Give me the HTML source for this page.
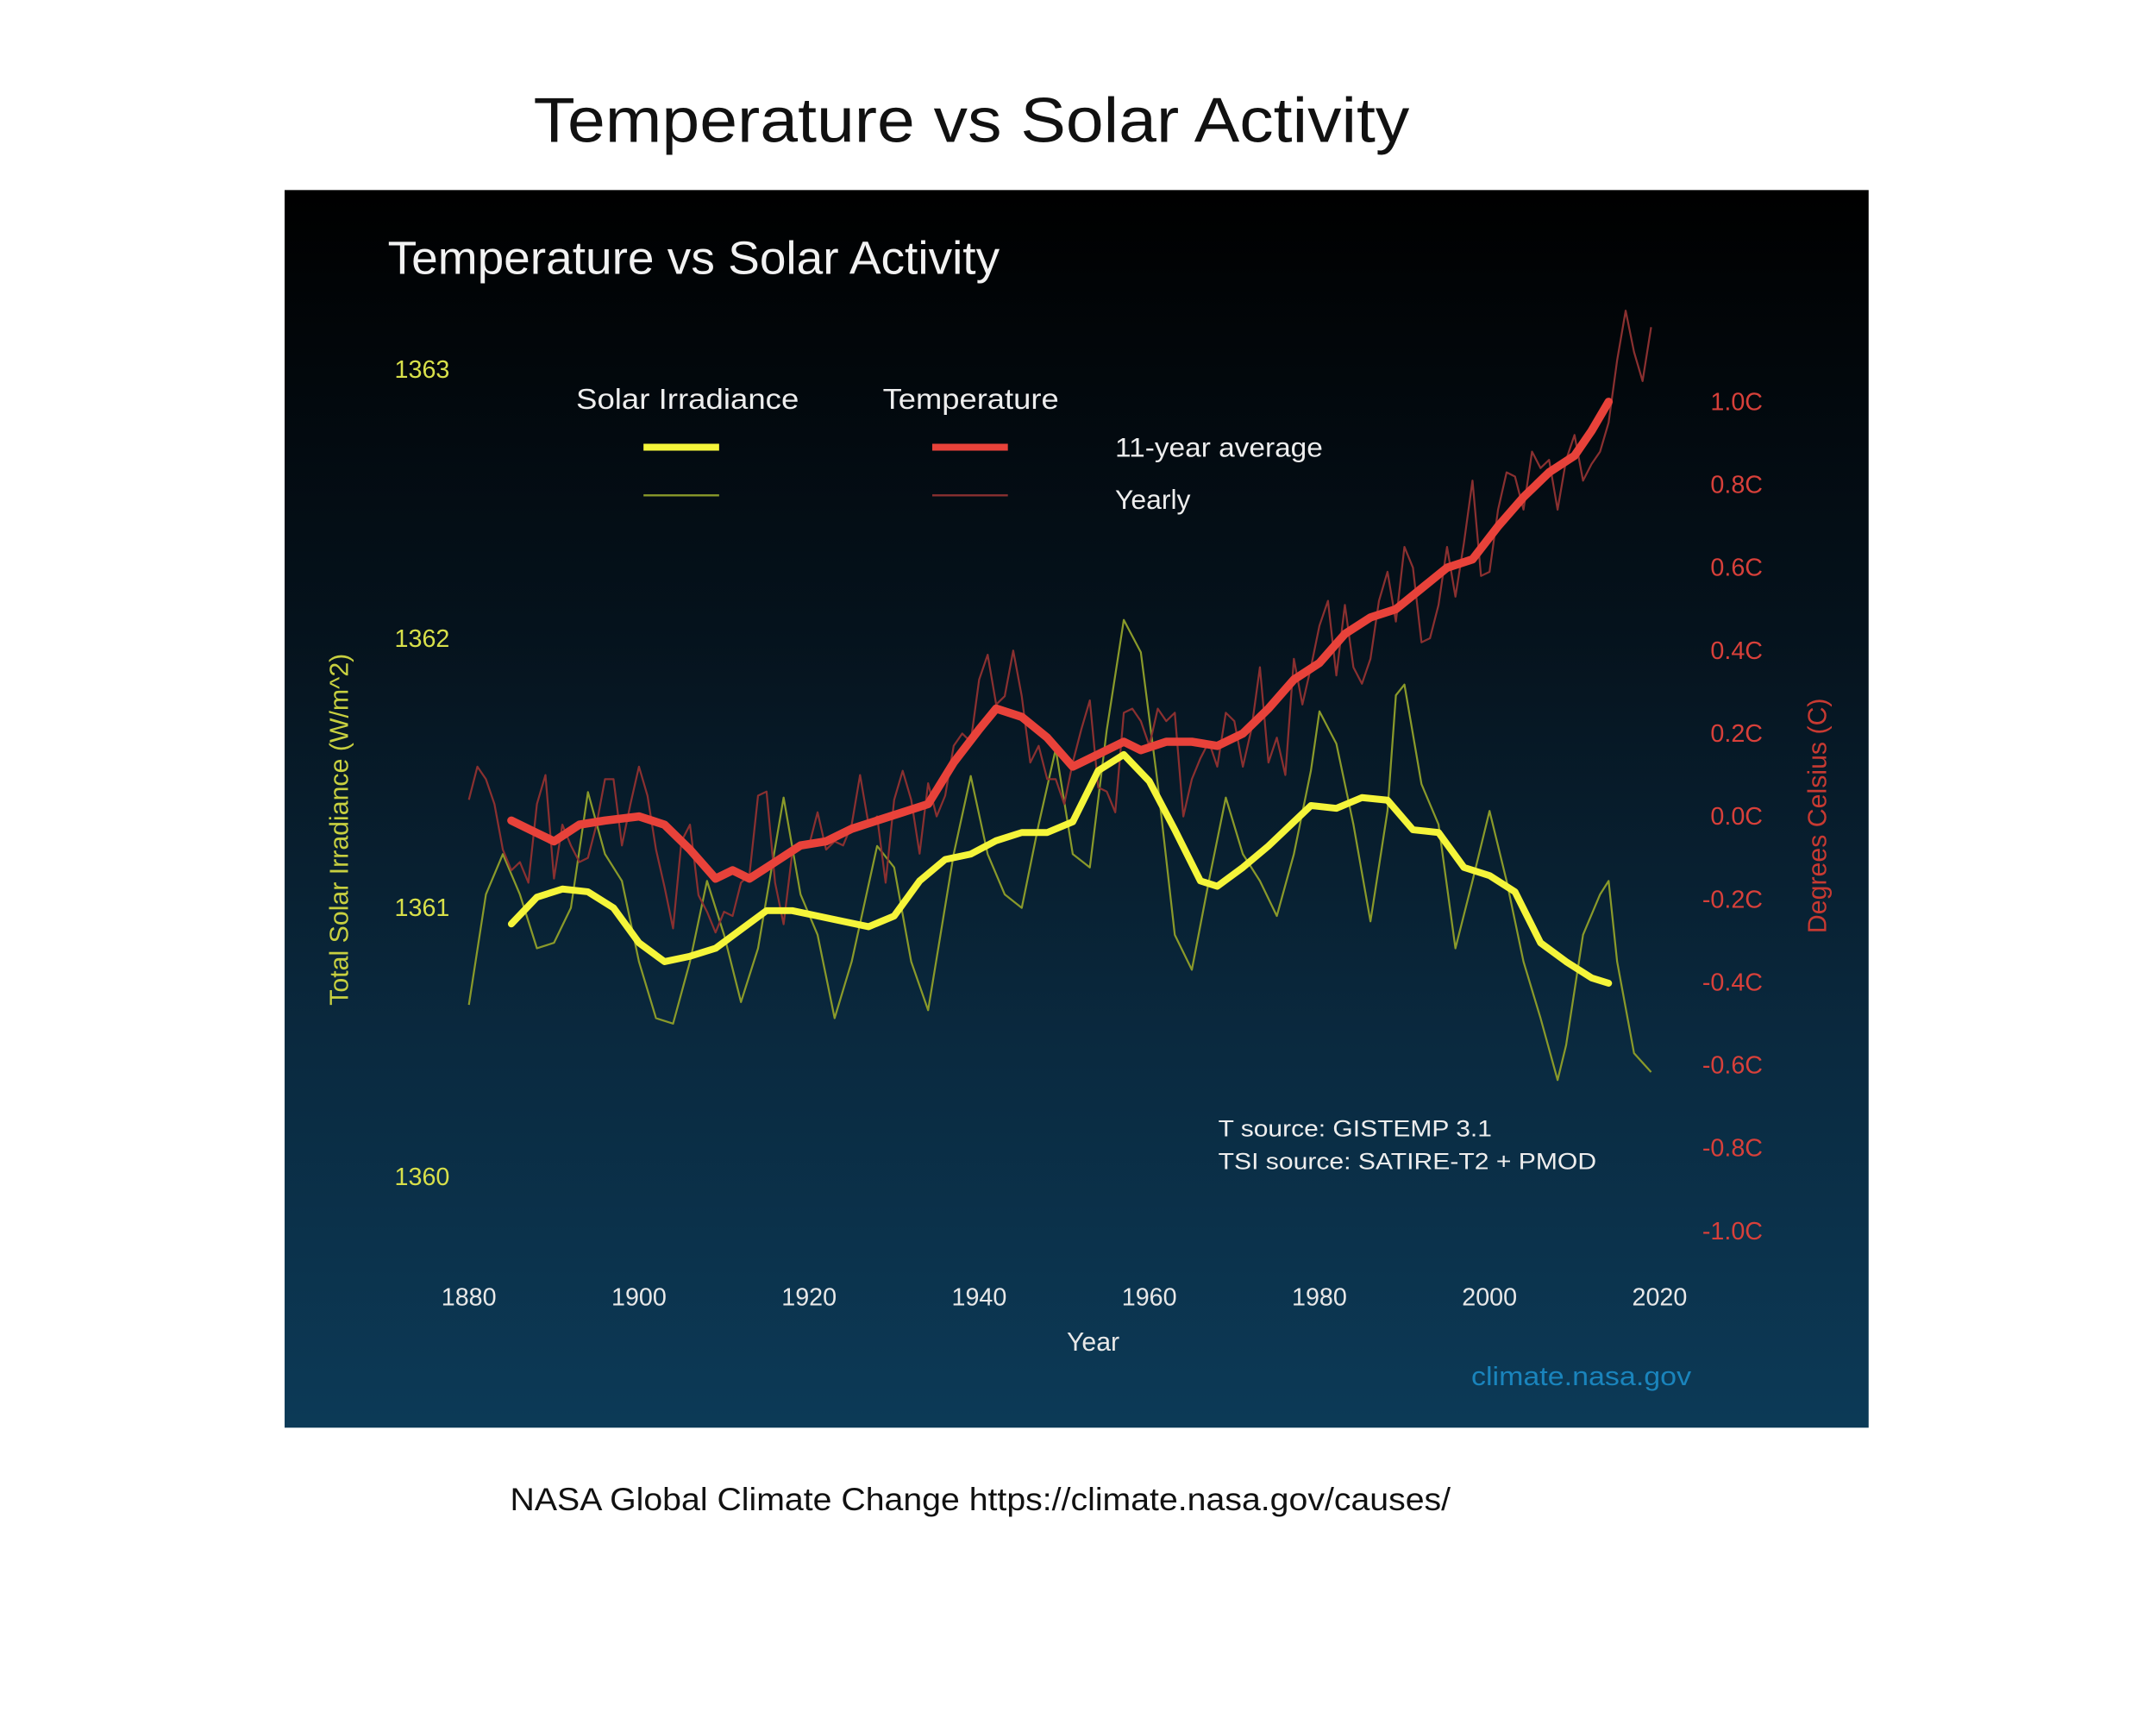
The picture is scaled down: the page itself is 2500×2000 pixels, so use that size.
<!DOCTYPE html>
<html><head><meta charset="utf-8"><style>
html,body{margin:0;padding:0;background:#fff;}
svg{display:block;font-family:"Liberation Sans",sans-serif;}
</style></head><body>
<svg id="chart" width="2500" height="2000" viewBox="0 0 1568 1254" xmlns="http://www.w3.org/2000/svg">
<defs>
<linearGradient id="bg" x1="0" y1="0" x2="0" y2="1">
<stop offset="0" stop-color="#000000"/>
<stop offset="0.35" stop-color="#05121c"/>
<stop offset="0.7" stop-color="#0a2a40"/>
<stop offset="1" stop-color="#0c3a57"/>
</linearGradient>
</defs>
<rect x="0" y="0" width="1568" height="1254" fill="#ffffff"/>
<text x="388" y="103" textLength="637" lengthAdjust="spacingAndGlyphs" font-size="46" fill="#111">Temperature vs Solar Activity</text>
<rect x="207" y="138" width="1152" height="900" fill="url(#bg)"/>
<text x="282" y="199" textLength="445" lengthAdjust="spacingAndGlyphs" font-size="34" fill="#f2f2f2">Temperature vs Solar Activity</text>
<g id="xticks"></g>
<g id="lticks"></g>
<g id="rticks"></g>
<text x="795" y="982" text-anchor="middle" font-size="19" fill="#e8e8e8">Year</text>
<text transform="translate(253,603) rotate(-90)" text-anchor="middle" font-size="19" fill="#c8d040">Total Solar Irradiance (W/m^2)</text>
<text transform="translate(1328,593) rotate(-90)" text-anchor="middle" font-size="19" fill="#c83a32">Degrees Celsius (C)</text>
<g id="series"></g>
<g>
<text x="419" y="297" textLength="162" lengthAdjust="spacingAndGlyphs" font-size="21" fill="#eee">Solar Irradiance</text>
<text x="642" y="297" textLength="128" lengthAdjust="spacingAndGlyphs" font-size="21" fill="#eee">Temperature</text>
<line x1="468" y1="325" x2="523" y2="325" stroke="#f5f53a" stroke-width="5"/>
<line x1="678" y1="325" x2="733" y2="325" stroke="#e8423a" stroke-width="5"/>
<line x1="468" y1="360" x2="523" y2="360" stroke="#8a9a2a" stroke-width="1.5"/>
<line x1="678" y1="360" x2="733" y2="360" stroke="#8a3030" stroke-width="1.5"/>
<text x="811" y="332" textLength="151" lengthAdjust="spacingAndGlyphs" font-size="20" fill="#eee">11-year average</text>
<text x="811" y="370" font-size="20" fill="#eee">Yearly</text>
</g>
<text x="886" y="826" textLength="199" lengthAdjust="spacingAndGlyphs" font-size="17" fill="#eee">T source: GISTEMP 3.1</text>
<text x="886" y="850" textLength="275" lengthAdjust="spacingAndGlyphs" font-size="17" fill="#eee">TSI source: SATIRE-T2 + PMOD</text>
<text x="1070" y="1007" textLength="160" lengthAdjust="spacingAndGlyphs" font-size="19" fill="#1a84bc">climate.nasa.gov</text>
<text x="371" y="1098" textLength="684" lengthAdjust="spacingAndGlyphs" font-size="23" fill="#111">NASA Global Climate Change https://climate.nasa.gov/causes/</text>
</svg>
<script>
const xTicks=[1880,1900,1920,1940,1960,1980,2000,2020];
const leftTicks=[1360,1361,1362,1363];
const rightTicks=[-1.0,-0.8,-0.6,-0.4,-0.2,0.0,0.2,0.4,0.6,0.8,1.0];
const tempYearly=[0.04,0.12,0.09,0.03,-0.08,-0.13,-0.11,-0.16,0.03,0.10,-0.15,-0.02,-0.07,-0.11,-0.10,-0.02,0.09,0.09,-0.07,0.03,0.12,0.05,-0.08,-0.17,-0.27,-0.06,-0.02,-0.19,-0.23,-0.28,-0.23,-0.24,-0.16,-0.14,0.05,0.06,-0.16,-0.26,-0.09,-0.07,-0.07,0.01,-0.08,-0.06,-0.07,-0.02,0.10,-0.02,0.00,-0.16,0.04,0.11,0.04,-0.09,0.08,0.00,0.05,0.17,0.20,0.18,0.33,0.39,0.27,0.29,0.40,0.29,0.13,0.17,0.09,0.09,0.03,0.13,0.21,0.28,0.07,0.06,0.01,0.25,0.26,0.23,0.17,0.26,0.23,0.25,0.00,0.09,0.14,0.18,0.12,0.25,0.23,0.12,0.21,0.36,0.13,0.19,0.10,0.38,0.27,0.36,0.46,0.52,0.34,0.51,0.36,0.32,0.38,0.52,0.59,0.47,0.65,0.60,0.42,0.43,0.51,0.65,0.53,0.66,0.81,0.58,0.59,0.74,0.83,0.82,0.74,0.88,0.84,0.86,0.74,0.86,0.92,0.81,0.85,0.88,0.95,1.10,1.22,1.12,1.05,1.18];
const tempAvgYears=[1885,1888,1890,1893,1896,1900,1903,1906,1909,1911,1913,1916,1919,1922,1925,1928,1931,1934,1937,1940,1942,1945,1948,1951,1954,1957,1959,1962,1965,1968,1971,1974,1977,1980,1983,1986,1989,1992,1995,1998,2001,2004,2007,2010,2012,2014];
const tempAvg=[-0.01,-0.04,-0.06,-0.02,-0.01,0.00,-0.02,-0.08,-0.15,-0.13,-0.15,-0.11,-0.07,-0.06,-0.03,-0.01,0.01,0.03,0.13,0.21,0.26,0.24,0.19,0.12,0.15,0.18,0.16,0.18,0.18,0.17,0.20,0.26,0.33,0.37,0.44,0.48,0.50,0.55,0.60,0.62,0.70,0.77,0.83,0.87,0.93,1.00];
const solarYears=[1880,1882,1884,1886,1888,1890,1892,1894,1896,1898,1900,1902,1904,1906,1908,1910,1912,1914,1917,1919,1921,1923,1925,1928,1930,1932,1934,1937,1939,1941,1943,1945,1947,1949,1951,1953,1955,1957,1959,1961,1963,1965,1967,1969,1971,1973,1975,1977,1979,1980,1982,1984,1986,1988,1989,1990,1992,1994,1996,1998,2000,2002,2004,2006,2008,2009,2011,2013,2014,2015,2017,2019];
const solarYearly=[1360.64,1361.05,1361.20,1361.05,1360.85,1360.87,1361.00,1361.43,1361.20,1361.10,1360.80,1360.59,1360.57,1360.80,1361.10,1360.90,1360.65,1360.85,1361.41,1361.05,1360.90,1360.59,1360.80,1361.23,1361.15,1360.80,1360.62,1361.20,1361.49,1361.20,1361.05,1361.00,1361.31,1361.59,1361.20,1361.15,1361.66,1362.07,1361.95,1361.46,1360.90,1360.77,1361.10,1361.41,1361.20,1361.10,1360.97,1361.20,1361.51,1361.73,1361.61,1361.31,1360.95,1361.36,1361.79,1361.83,1361.46,1361.31,1360.85,1361.10,1361.36,1361.10,1360.80,1360.59,1360.36,1360.49,1360.90,1361.05,1361.10,1360.80,1360.46,1360.39];
const solarAvgYears=[1885,1888,1891,1894,1897,1900,1903,1906,1909,1912,1915,1918,1921,1924,1927,1930,1933,1936,1939,1942,1945,1948,1951,1954,1957,1960,1963,1966,1968,1971,1974,1977,1979,1982,1985,1988,1991,1994,1997,2000,2003,2006,2009,2012,2014];
const solarAvg=[1360.94,1361.04,1361.07,1361.06,1361.00,1360.87,1360.80,1360.82,1360.85,1360.92,1360.99,1360.99,1360.97,1360.95,1360.93,1360.97,1361.10,1361.18,1361.20,1361.25,1361.28,1361.28,1361.32,1361.51,1361.57,1361.47,1361.29,1361.10,1361.08,1361.15,1361.23,1361.32,1361.38,1361.37,1361.41,1361.40,1361.29,1361.28,1361.15,1361.12,1361.06,1360.87,1360.80,1360.74,1360.72];

const NS='http://www.w3.org/2000/svg';
function xs(yr){return 341+(yr-1880)*(1207-341)/140;}
function yl(v){return 660-(v-1361)*195.7;}
function yr(t){return 593.5-t*301.5;}
function mk(tag,attrs,parent){const e=document.createElementNS(NS,tag);for(const k in attrs)e.setAttribute(k,attrs[k]);parent.appendChild(e);return e;}
const gx=document.getElementById('xticks');
xTicks.forEach(t=>{const e=mk('text',{x:xs(t),y:949,'text-anchor':'middle','font-size':18,fill:'#e8e8e8'},gx);e.textContent=t;

});
const gl=document.getElementById('lticks');
leftTicks.forEach(t=>{const e=mk('text',{x:327,y:yl(t)+6,'text-anchor':'end','font-size':18,fill:'#d8e04a'},gl);e.textContent=t;

});
const gr=document.getElementById('rticks');
rightTicks.forEach(t=>{const e=mk('text',{x:1282,y:yr(t)+6,'text-anchor':'end','font-size':18,fill:'#d8403a'},gr);e.textContent=t.toFixed(1)+'C';

});
const gs=document.getElementById('series');
function path(xv,yv,fx,fy){return xv.map((x,i)=>(i?'L':'M')+fx(x).toFixed(1)+','+fy(yv[i]).toFixed(1)).join(' ');}
const tyears=tempYearly.map((_,i)=>1880+i);
const p1=mk('path',{d:path(solarYears,solarYearly,xs,yl),fill:'none',stroke:'#8a9a2a','stroke-width':1.4,'stroke-linejoin':'round'},gs);


const p2=mk('path',{d:path(tyears,tempYearly,xs,yr),fill:'none',stroke:'#8a3030','stroke-width':1.4,'stroke-linejoin':'round'},gs);


const p3=mk('path',{d:path(solarAvgYears,solarAvg,xs,yl),fill:'none',stroke:'#f5f53a','stroke-width':5,'stroke-linejoin':'round','stroke-linecap':'round'},gs);


const p4=mk('path',{d:path(tempAvgYears,tempAvg,xs,yr),fill:'none',stroke:'#e8423a','stroke-width':6,'stroke-linejoin':'round','stroke-linecap':'round'},gs);


</script>
</body></html>
